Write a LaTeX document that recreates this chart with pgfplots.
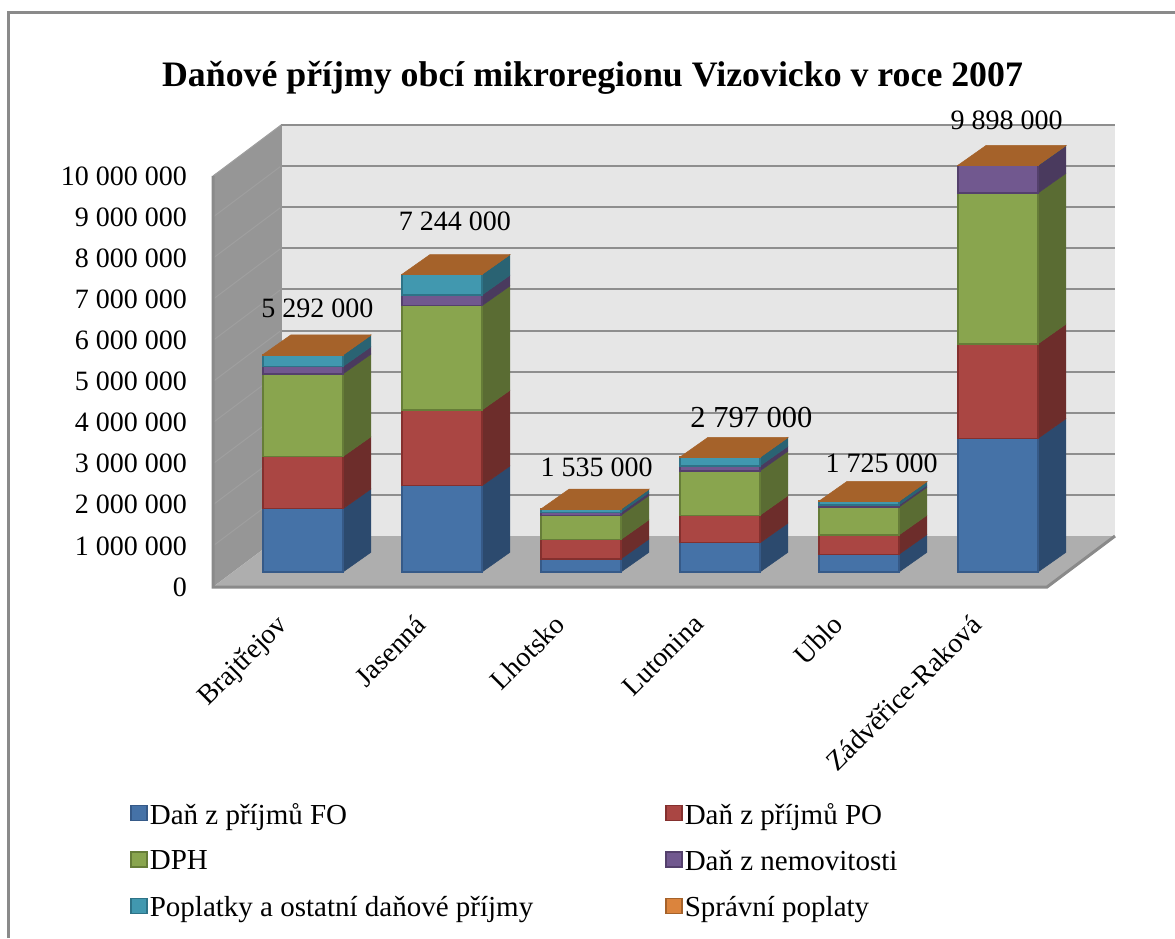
\documentclass[border=0pt]{standalone}
\usepackage{pgfplots}
\pgfplotsset{compat=1.18}
\usepackage{fontspec}
\setmainfont{Liberation Serif}
\definecolor{cBlue}{HTML}{4572A7}\definecolor{sBlue}{HTML}{2C4A6E}\definecolor{eBlue}{HTML}{365A88}
\definecolor{cRed}{HTML}{AA4643}\definecolor{sRed}{HTML}{6D2D2B}\definecolor{eRed}{HTML}{84302E}
\definecolor{cGreen}{HTML}{89A54E}\definecolor{sGreen}{HTML}{5A6C33}\definecolor{eGreen}{HTML}{667D38}
\definecolor{cPurple}{HTML}{71588F}\definecolor{sPurple}{HTML}{4A3A5E}\definecolor{ePurple}{HTML}{54406C}
\definecolor{cTeal}{HTML}{4198AF}\definecolor{sTeal}{HTML}{2A6373}\definecolor{eTeal}{HTML}{2E7387}
\definecolor{cOrange}{HTML}{DB843D}\definecolor{sOrange}{HTML}{A5622A}\definecolor{eOrange}{HTML}{A5622A}
\definecolor{wallBack}{HTML}{E6E6E6}\definecolor{wallLeft}{HTML}{969696}\definecolor{wallFloor}{HTML}{AEAEAE}
\definecolor{gridc}{HTML}{8E8E8E}\definecolor{framec}{HTML}{8A8A8A}
% depth of one bar, in data units
\def\barL{0.36}\def\barW{0.575}\def\barB{365000}\def\bardx{0.2014}\def\bardy{480000}
% one stacked segment of a bar: category, lower, upper, colour suffix
\newcommand{\seg}[4]{%
  \edef\xa{\fpeval{#1+\barL}}\edef\xb{\fpeval{#1+\barL+\barW}}\edef\xc{\fpeval{#1+\barL+\barW+\bardx}}%
  \edef\ya{\fpeval{#2+\barB}}\edef\yb{\fpeval{#3+\barB}}\edef\yc{\fpeval{#2+\barB+\bardy}}\edef\yd{\fpeval{#3+\barB+\bardy}}%
  \edef\tmp{\noexpand\addplot[forget plot,fill=s#4,draw=s#4,line width=0.5pt] coordinates {(\xb,\ya)(\xc,\yc)(\xc,\yd)(\xb,\yb)} -- cycle;}\tmp
  \edef\tmp{\noexpand\addplot[forget plot,fill=c#4,draw=e#4,line width=1.3pt] coordinates {(\xa,\ya)(\xb,\ya)(\xb,\yb)(\xa,\yb)} -- cycle;}\tmp
}
\newcommand{\bartop}[2]{%
  \edef\xa{\fpeval{#1+\barL}}\edef\xb{\fpeval{#1+\barL+\barW}}\edef\xc{\fpeval{#1+\barL+\bardx}}\edef\xd{\fpeval{#1+\barL+\barW+\bardx}}%
  \edef\ya{\fpeval{#2+\barB}}\edef\yb{\fpeval{#2+\barB+\bardy}}%
  \edef\tmp{\noexpand\addplot[forget plot,fill=sOrange,draw=sOrange,line width=0.5pt] coordinates {(\xa,\ya)(\xb,\ya)(\xd,\yb)(\xc,\yb)} -- cycle;}\tmp
}
% whole bar: category, six values
\newcommand{\stackbar}[7]{%
  \edef\sa{\fpeval{#2}}\edef\sb{\fpeval{#2+#3}}\edef\sc{\fpeval{#2+#3+#4}}\edef\sd{\fpeval{#2+#3+#4+#5}}\edef\se{\fpeval{#2+#3+#4+#5+#6}}\edef\sf{\fpeval{#2+#3+#4+#5+#6+#7}}%
  \seg{#1}{0}{\sa}{Blue}\seg{#1}{\sa}{\sb}{Red}\seg{#1}{\sb}{\sc}{Green}\seg{#1}{\sc}{\sd}{Purple}\seg{#1}{\sd}{\se}{Teal}\seg{#1}{\se}{\sf}{Orange}\bartop{#1}{\sf}%
}
\newcommand{\leg}[1]{\addlegendimage{legend image code/.code={\draw[fill=c#1,draw=e#1,line width=1.6pt] (0pt,-6pt) rectangle (16pt,9pt);}}}
\begin{document}
\begin{tikzpicture}[x=1pt,y=1pt]
\path[use as bounding box] (0,0) rectangle (1175,938);
\draw[framec,line width=3.2pt] (8.5,0) -- (8.5,925.5) -- (1175,925.5);
\node[font=\fontsize{35.8}{40}\selectfont\bfseries] at (592.5,860) {Daňové příjmy obcí mikroregionu Vizovicko v roce 2007};
\begin{axis}[
  at={(213pt,351pt)},anchor=origin,
  scale only axis,width=834pt,height=411pt,
  xmin=0,xmax=6,ymin=0,ymax=10000000,clip=false,
  scaled y ticks=false,
  axis line style={draw=none},major tick length=0pt,
  xtick={0.5,1.5,2.5,3.5,4.5,5.5},
  xticklabels={Brajtřejov,Jasenná,Lhotsko,Lutonina,Ublo,Zádvěřice-Raková},
  x tick label style={rotate=45,anchor=north east,font=\fontsize{28}{30}\selectfont,inner sep=0pt,xshift=-23.5pt,yshift=-12.7pt},
  ytick={0,1000000,2000000,3000000,4000000,5000000,6000000,7000000,8000000,9000000,10000000},
  yticklabels={0,1 000 000,2 000 000,3 000 000,4 000 000,5 000 000,6 000 000,7 000 000,8 000 000,9 000 000,10 000 000},
  y tick label style={font=\fontsize{28}{30}\selectfont,anchor=east,inner sep=0pt,xshift=-26pt},
  legend columns=2,
  legend style={at={(-0.0995,-0.521)},anchor=north west,draw=none,fill=none,font=\fontsize{29}{31}\selectfont,
    /tikz/every even column/.append style={column sep=130pt},
    /tikz/row sep=20.5pt,inner sep=0pt,cells={anchor=west}},
  legend cell align=left,
]
% walls
\addplot[forget plot,fill=wallBack,draw=none] coordinates {(0.489,1240000)(6.489,1240000)(6.489,11240000)(0.489,11240000)} -- cycle;
\addplot[forget plot,fill=wallLeft,draw=none] coordinates {(0,0)(0.489,1240000)(0.489,11240000)(0,10000000)} -- cycle;
\addplot[forget plot,fill=wallFloor,draw=none] coordinates {(0,0)(6,0)(6.489,1240000)(0.489,1240000)} -- cycle;
\pgfplotsinvokeforeach{1,...,10}{
  \edef\gy{\fpeval{#1*1000000}}\edef\gz{\fpeval{#1*1000000+1240000}}
  \edef\tmp{\noexpand\addplot[forget plot,draw=gridc,line width=2pt] coordinates {(0.489,\gz)(6.489,\gz)};}\tmp
  \edef\tmp{\noexpand\addplot[forget plot,draw=gridc!85!white,line width=1pt] coordinates {(0,\gy)(0.489,\gz)};}\tmp
}
\addplot[forget plot,draw=wallLeft,line width=1.5pt] coordinates {(0.489,1240000)(0.489,11240000)};
\addplot[forget plot,draw=framec,line width=3pt] coordinates {(0,10000000)(0,0)(6,0)(6.489,1240000)};
% bars
\stackbar{0}{1540000}{1270000}{2010000}{180000}{280000}{12000}
\stackbar{1}{2100000}{1840000}{2540000}{260000}{500000}{4000}
\stackbar{2}{320000}{470000}{590000}{70000}{80000}{5000}
\stackbar{3}{710000}{670000}{1080000}{120000}{210000}{7000}
\stackbar{4}{430000}{470000}{680000}{50000}{90000}{5000}
\stackbar{5}{3250000}{2300000}{3670000}{670000}{5000}{3000}
% totals
\node[font=\fontsize{28}{30}\selectfont] at (axis cs:0.75,6770000) {5 292 000};
\node[font=\fontsize{28}{30}\selectfont] at (axis cs:1.74,8890000) {7 244 000};
\node[font=\fontsize{28}{30}\selectfont] at (axis cs:2.76,2920000) {1 535 000};
\node[font=\fontsize{30.5}{32}\selectfont] at (axis cs:3.874,4130000) {2 797 000};
\node[font=\fontsize{28}{30}\selectfont] at (axis cs:4.81,3020000) {1 725 000};
\node[font=\fontsize{28}{30}\selectfont] at (axis cs:5.71,11350000) {9 898 000};
% legend
\leg{Blue}\addlegendentry{Daň z příjmů FO}
\leg{Red}\addlegendentry{Daň z příjmů PO}
\leg{Green}\addlegendentry{DPH}
\leg{Purple}\addlegendentry{Daň z nemovitosti}
\leg{Teal}\addlegendentry{Poplatky a ostatní daňové příjmy}
\leg{Orange}\addlegendentry{Správní poplaty}
\end{axis}
\end{tikzpicture}
\end{document}
